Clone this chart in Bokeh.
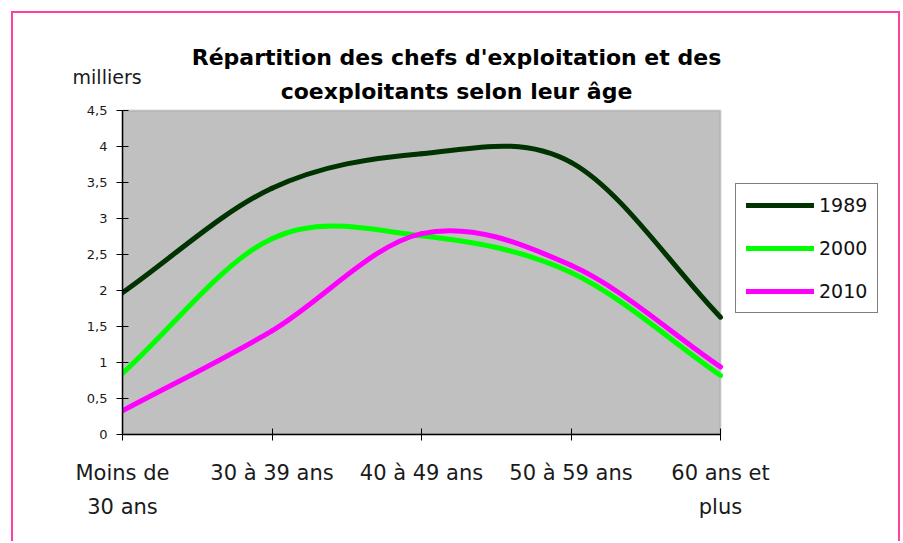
import numpy as np
from bokeh.plotting import figure
from bokeh.models import Label, Legend, LegendItem, FixedTicker, Range1d, ColumnDataSource, BoxAnnotation
from bokeh.embed import file_html
from bokeh.resources import INLINE

# ---- data ----
categories = ["Moins de\n30 ans", "30 à 39 ans", "40 à 49 ans", "50 à 59 ans", "60 ans et\nplus"]
series_names = ["1989", "2000", "2010"]
values_1989 = [1.97, 3.42, 3.90, 3.78, 1.63]
values_2000 = [0.85, 2.72, 2.76, 2.25, 0.82]
values_2010 = [0.33, 1.44, 2.79, 2.35, 0.94]
y_ticks = [0, 0.5, 1, 1.5, 2, 2.5, 3, 3.5, 4, 4.5]
y_tick_labels = ["0", "0,5", "1", "1,5", "2", "2,5", "3", "3,5", "4", "4,5"]
title_lines = ["Répartition des chefs d'exploitation et des", "coexploitants selon leur âge"]
unit_label = "milliers"

colors = ["#003300", "#00FF00", "#FF00FF"]
FONT = "DejaVu Sans"
PINK = "#FF3FA4"

# layout: plot area 598x324 px; the frame extends right to hold the legend
X_MAX = len(categories) - 1
Y_MAX = y_ticks[-1]
PLOT_W, PLOT_H = 598, 324
FRAME_W, FRAME_H = 776, 328


def smooth_source(ys):
    """Bezier segments (Excel-like smoothing) between the category points."""
    ys = np.asarray(ys, dtype=float)
    n = len(ys)
    xs = np.arange(n, dtype=float)
    m = np.zeros(n)
    m[0] = ys[1] - ys[0]
    m[-1] = ys[-1] - ys[-2]
    m[1:-1] = (ys[2:] - ys[:-2]) / 2.0
    return ColumnDataSource(dict(
        x0=xs[:-1], y0=ys[:-1], x1=xs[1:], y1=ys[1:],
        cx0=xs[:-1] + 1 / 3, cy0=ys[:-1] + m[:-1] / 3,
        cx1=xs[1:] - 1 / 3, cy1=ys[1:] - m[1:] / 3,
    ))


p = figure(
    frame_width=FRAME_W, frame_height=FRAME_H,
    x_range=Range1d(0, X_MAX * FRAME_W / PLOT_W), y_range=Range1d(0, Y_MAX * FRAME_H / PLOT_H),
    output_backend="svg", toolbar_location=None,
    min_border_left=109, min_border_right=0, min_border_top=93, min_border_bottom=107,
    background_fill_color="white", border_fill_color="white",
    outline_line_color=None,
)
p.styles = {"border-left": f"2px solid {PINK}", "border-top": f"2px solid {PINK}",
            "border-right": f"2px solid {PINK}", "margin-left": "11px", "margin-top": "11px"}
p.xgrid.visible = False
p.ygrid.visible = False

# grey plot area
p.add_layout(BoxAnnotation(left=0, right=X_MAX, bottom=0, top=Y_MAX, fill_color="#C0C0C0", fill_alpha=1,
                           line_color="#808080", line_width=2, level="underlay"))

# x axis
p.xaxis.ticker = FixedTicker(ticks=list(range(len(categories))))
p.xaxis.major_label_overrides = {i: c for i, c in enumerate(categories)}
p.xaxis.bounds = (0, X_MAX)
p.xaxis.major_label_text_font = FONT
p.xaxis.major_label_text_font_size = "21px"
p.xaxis.major_label_text_color = "#1a1a1a"
p.xaxis.major_label_text_line_height = 1.45
p.xaxis.major_label_standoff = 20
# y axis
p.yaxis.ticker = FixedTicker(ticks=y_ticks)
p.yaxis.major_label_overrides = {t: l for t, l in zip(y_ticks, y_tick_labels)}
p.yaxis.bounds = (0, Y_MAX)
p.yaxis.major_label_text_font = FONT
p.yaxis.major_label_text_font_size = "13px"
p.yaxis.major_label_text_color = "#1a1a1a"
p.yaxis.major_label_standoff = 9
for ax in (p.xaxis, p.yaxis):
    ax.axis_line_color = "#000000"
    ax.axis_line_width = 1.5
    ax.major_tick_line_color = "#000000"
    ax.major_tick_in = 6
    ax.major_tick_out = 6
    ax.minor_tick_line_color = None

items = []
for name, vals, col in zip(series_names, [values_1989, values_2000, values_2010], colors):
    r = p.bezier(x0="x0", y0="y0", x1="x1", y1="y1", cx0="cx0", cy0="cy0", cx1="cx1", cy1="cy1",
                 source=smooth_source(vals), line_color=col, line_width=5, line_cap="round")
    items.append(LegendItem(label=name, renderers=[r]))

legend = Legend(items=items, location=(613, 121))
legend.border_line_color = "#000000"
legend.border_line_width = 1
legend.background_fill_color = "white"
legend.background_fill_alpha = 1
legend.label_text_font = FONT
legend.label_text_font_size = "19px"
legend.label_text_color = "#111111"
legend.glyph_width = 68
legend.glyph_height = 20
legend.label_height = 20
legend.spacing = 21
legend.padding = 10
legend.margin = 0
legend.label_standoff = 5
p.add_layout(legend)

# title and unit label (positions expressed in data units of the chart)
p.add_layout(Label(x=2.234, y=5.236, text=title_lines[0], text_align="center", text_baseline="middle",
                   text_font=FONT, text_font_style="bold", text_font_size="22px", text_color="#000000"), "above")
p.add_layout(Label(x=2.234, y=4.764, text=title_lines[1], text_align="center", text_baseline="middle",
                   text_font=FONT, text_font_style="bold", text_font_size="22px", text_color="#000000"), "above")
p.add_layout(Label(x=-0.334, y=4.97, text=unit_label, text_align="left", text_baseline="middle",
                   text_font=FONT, text_font_size="19px", text_color="#1a1a1a"), "above")

open("out.html", "w").write(file_html(p, INLINE))
